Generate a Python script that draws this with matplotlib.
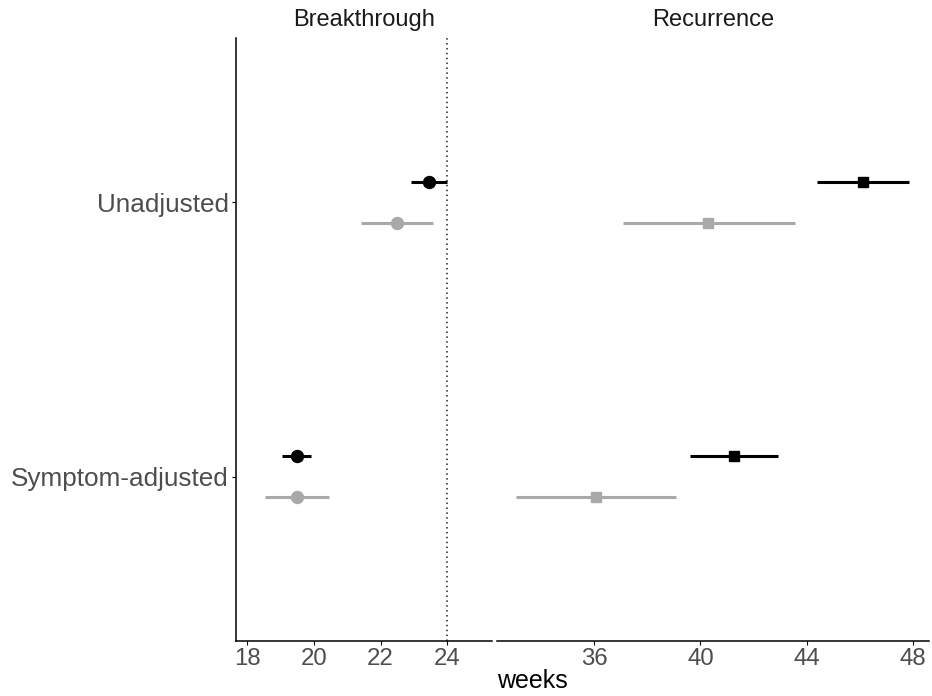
import matplotlib
matplotlib.use("Agg")
import matplotlib.pyplot as plt

plt.rcParams['font.family'] = ['Liberation Sans', 'DejaVu Sans']

categories = ["Unadjusted", "Symptom-adjusted"]

# Breakthrough panel (weeks): estimate, lower, upper
bt_black_est = [23.45, 19.49]
bt_black_lo = [22.92, 19.06]
bt_black_hi = [23.98, 19.92]
bt_grey_est = [22.49, 19.49]
bt_grey_lo = [21.42, 18.53]
bt_grey_hi = [23.56, 20.46]

# Recurrence panel (weeks)
rc_black_est = [46.12, 41.25]
rc_black_lo = [44.38, 39.59]
rc_black_hi = [47.87, 42.92]
rc_grey_est = [40.30, 36.08]
rc_grey_lo = [37.07, 33.06]
rc_grey_hi = [43.57, 39.09]

ref_line = 24

black = "#000000"
grey = "#A9A9A9"
tick_col = "#4D4D4D"

W, H = 932, 696
fig = plt.figure(figsize=(W / 100, H / 100), dpi=100)

top, bottom = 38, 641
ax1 = fig.add_axes([236 / W, (H - bottom) / H, (492 - 236) / W, (bottom - top) / H])
ax2 = fig.add_axes([497 / W, (H - bottom) / H, (929 - 497) / W, (bottom - top) / H])

ypos = [2, 1]  # Unadjusted on top
dodge = 0.075


def draw(ax, est, lo, hi, color, marker, ms, off):
    for y, e, l, h in zip(ypos, est, lo, hi):
        yy = y + off
        ax.plot([l, h], [yy, yy], color=color, lw=2.2, solid_capstyle='butt', zorder=2)
        ax.plot(e, yy, marker=marker, color=color, ms=ms, zorder=3, linestyle='none')


draw(ax1, bt_black_est, bt_black_lo, bt_black_hi, black, 'o', 8.6, dodge)
draw(ax1, bt_grey_est, bt_grey_lo, bt_grey_hi, grey, 'o', 8.6, -dodge)
draw(ax2, rc_black_est, rc_black_lo, rc_black_hi, black, 's', 7.6, dodge)
draw(ax2, rc_grey_est, rc_grey_lo, rc_grey_hi, grey, 's', 7.6, -dodge)

ax1.axvline(ref_line, color="#222222", lw=1.1, linestyle=(0, (1, 2.2)), zorder=1)

ax1.set_xlim(17.67, 25.34)
ax2.set_xlim(32.34, 48.61)
ax1.set_xticks([18, 20, 22, 24])
ax2.set_xticks([36, 40, 44, 48])

for ax in (ax1, ax2):
    ax.set_ylim(0.4, 2.6)
    for s in ("top", "right"):
        ax.spines[s].set_visible(False)
    ax.spines["bottom"].set_linewidth(1.1)
    ax.tick_params(axis='x', length=3, width=0.8, labelsize=17.3, labelcolor=tick_col, pad=2)

ax1.spines["left"].set_linewidth(1.1)
ax1.set_yticks(ypos)
ax1.set_yticklabels(categories)
ax1.tick_params(axis='y', length=3, width=0.8, labelsize=18.8, labelcolor=tick_col, pad=2)

ax2.spines["left"].set_visible(False)
ax2.set_yticks([])

ax1.text(0.5, 1 + 18 / 603, "Breakthrough", transform=ax1.transAxes,
         ha='center', va='center', fontsize=17, color="#1A1A1A")
ax2.text(0.5, 1 + 18 / 603, "Recurrence", transform=ax2.transAxes,
         ha='center', va='center', fontsize=17, color="#1A1A1A")

fig.text(532 / W, 1 - 681 / H, "weeks", ha='center', va='center', fontsize=18, color="black")

fig.savefig("out.png", dpi=100)
